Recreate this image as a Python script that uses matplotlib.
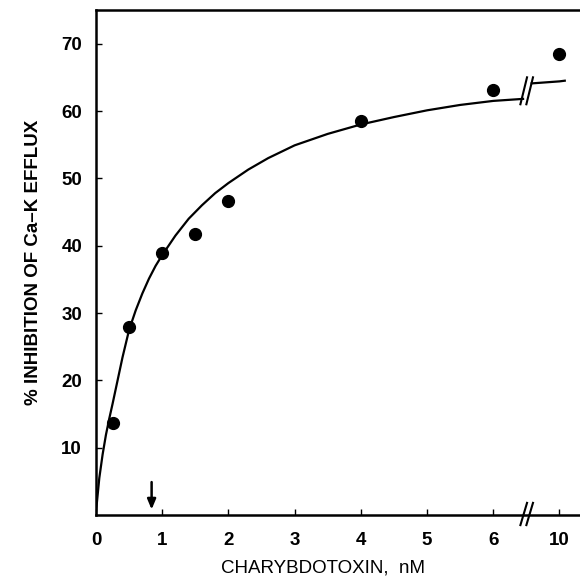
import matplotlib
matplotlib.use('Agg')
from matplotlib import pyplot as plt
import numpy as np

plt.rcParams['font.family'] = ['Liberation Sans', 'DejaVu Sans']

# measured points (nM, % inhibition)
conc = [0.25, 0.5, 1.0, 1.5, 2.0, 4.0, 6.0, 10.0]
inhib = [13.7, 27.9, 38.9, 41.7, 46.7, 58.5, 63.1, 68.4]

# fitted curve
curve_x = [0.0, 0.02, 0.05, 0.1, 0.15, 0.2, 0.25, 0.3, 0.4, 0.5, 0.6, 0.7,
           0.8, 0.9, 1.0, 1.2, 1.4, 1.6, 1.8, 2.0, 2.3, 2.6, 3.0, 3.5, 4.0,
           4.5, 5.0, 5.5, 6.0, 6.45]
curve_y = [0.5, 2.5, 5.5, 9.0, 11.9, 14.3, 16.5, 18.8, 23.4, 27.5, 30.4,
           32.9, 35.1, 37.0, 38.6, 41.5, 44.0, 46.0, 47.8, 49.3, 51.3, 53.0,
           54.9, 56.6, 58.0, 59.1, 60.1, 60.9, 61.5, 61.8]
tail_x = [7.9, 8.6, 9.3, 10.0, 10.4]
tail_y = [64.1, 64.2, 64.3, 64.4, 64.5]

x_ticks = [0, 1, 2, 3, 4, 5, 6, 10]
y_ticks = [10, 20, 30, 40, 50, 60, 70]
arrow_x = 0.84

brk = 6.46       # where the axis is broken
tail_scale = 0.2  # compression of the part after the break


def to_disp(c):
    c = np.asarray(c, dtype=float)
    return np.where(c <= 6.5, c, 7 + (c - 10) * tail_scale)


fig = plt.figure(figsize=(5.8, 5.86), dpi=100)
ax = fig.add_axes([96/580, 71/586, 484/580, 505/586])

ax.plot(to_disp(curve_x), curve_y, color='black', lw=1.6,
        solid_joinstyle='round')
ax.plot(to_disp(tail_x), tail_y, color='black', lw=1.6)
ax.plot(to_disp(conc), inhib, 'o', color='black', ms=8.5)

# break marks on the curve
for dx in (0.0, 0.09):
    ax.plot([brk + dx - 0.05, brk + dx + 0.05], [61.0, 65.0], color='black',
            lw=1.5)
# break marks on the x axis
for dx in (0.0, 0.09):
    ax.plot([brk + dx - 0.05, brk + dx + 0.05], [-1.5, 1.8], color='black',
            lw=1.5, clip_on=False)

ax.annotate('', xy=(arrow_x, 0.4), xytext=(arrow_x, 5.3),
            arrowprops=dict(arrowstyle='-|>,head_width=0.25,head_length=0.6',
                            color='black', lw=1.8))

ax.set_xlim(0, 7.31)
ax.set_ylim(0, 75)
ax.set_xticks(to_disp(x_ticks))
ax.set_xticklabels([str(t) for t in x_ticks])
ax.set_yticks(y_ticks)
ax.tick_params(direction='in', length=4, width=1, labelsize=13.5, pad=12)
ax.tick_params(axis='y', pad=10)
for lab in ax.get_xticklabels() + ax.get_yticklabels():
    lab.set_fontweight('bold')

ax.spines['right'].set_visible(False)
for s in ('left', 'bottom', 'top'):
    ax.spines[s].set_linewidth(1.8)

ax.set_xlabel('CHARYBDOTOXIN,  nM', fontsize=13.5, labelpad=8, x=0.47)
ax.set_ylabel('% INHIBITION OF Ca\u2013K EFFLUX', fontsize=13.5,
              fontweight='bold', labelpad=14)

fig.savefig('out.png', dpi=100)
